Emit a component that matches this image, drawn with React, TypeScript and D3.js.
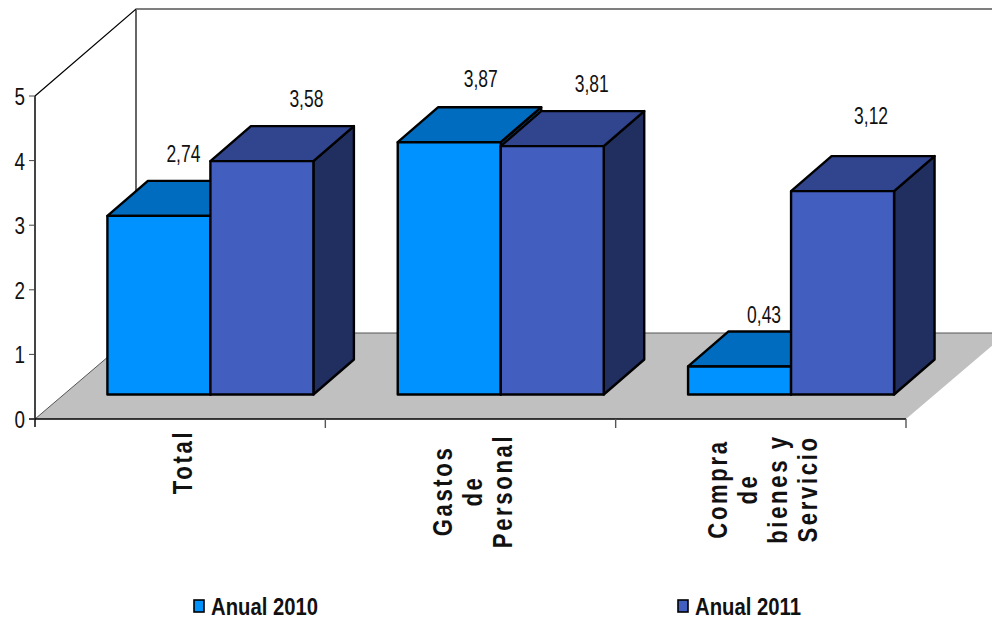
import React from "react";
import * as d3 from "d3";

const categories = [["Total"], ["Gastos", "de", "Personal"], ["Compra", "de", "bienes y", "Servicio"]];
const seriesNames = ["Anual 2010", "Anual 2011"];
const anual2010 = [2.74, 3.87, 0.43];
const anual2011 = [3.58, 3.81, 3.12];
const yTicks = [0, 1, 2, 3, 4, 5];
const valueLabels = [["2,74", "3,87", "0,43"], ["3,58", "3,81", "3,12"]];

// layout constants
const labelDx = [[76, 83, 76], [96, 91, 80]];
const labelBase = [[54, 55, 43.5], [54, 54, 67]];
const W = 992, H = 622;
const x0 = 35, x1 = 906, y0 = 419, y5 = 96;
const wallDx = 101, wallDy = 86;
const barDx = 29;
const barBase = 394.5, barTop5 = 68.5;
const depthX = 40.5, depthY = 35;
const barW = 103, barInset = 43.4;

const x = d3.scaleBand<number>().domain([0, 1, 2]).range([x0, x1]);
const y = d3.scaleLinear().domain([0, 5]).range([y0, y5]);
const yBar = d3.scaleLinear().domain([0, 5]).range([barBase, barTop5]);
const line = d3.line();

const fills = [
  { front: "#0092ff", top: "#006cbf", side: "#00497f" },
  { front: "#425ebf", top: "#31458f", side: "#212f60" },
];

function Bar({ bx, v, c }: { bx: number; v: number; c: typeof fills[0] }) {
  const base = yBar(0);
  const t = yBar(v);
  const p = (pts: [number, number][]) => line(pts)! + "Z";
  const st = { stroke: "#000", strokeWidth: 2.4, strokeLinejoin: "round" as const };
  return (
    <g>
      <path d={p([[bx + barW, t], [bx + barW + depthX, t - depthY], [bx + barW + depthX, base - depthY], [bx + barW, base]])} fill={c.side} {...st} />
      <path d={p([[bx, t], [bx + depthX, t - depthY], [bx + barW + depthX, t - depthY], [bx + barW, t]])} fill={c.top} {...st} />
      <rect x={bx} y={t} width={barW} height={base - t} fill={c.front} {...st} />
    </g>
  );
}

export default function App() {
  const font = "'Liberation Sans', Arial, sans-serif";
  const series = [anual2010, anual2011];
  return (
    <svg width={W} height={H} style={{ position: "absolute", left: 0, top: 0, background: "#fff" }} fontFamily={font}>
      {/* walls */}
      <path d={line([[x0, y(5)], [x0 + wallDx, y(5) - wallDy - 1], [W, y(5) - wallDy - 1]])!} fill="none" stroke="#000" strokeWidth={1.2} />
      <path d={line([[x0 + wallDx, y(5) - wallDy], [x0 + wallDx, y0 - wallDy]])!} fill="none" stroke="#000" strokeWidth={1.2} />
      {/* floor */}
      <path d={line([[x0, y0], [x1, y0], [x1 + wallDx, y0 - wallDy], [x0 + wallDx, y0 - wallDy]])! + "Z"} fill="#c0c0c0" stroke="none" />
      <path d={line([[x0, y0], [x0 + wallDx, y0 - wallDy], [W, y0 - wallDy]])!} fill="none" stroke="#555" strokeWidth={1} />
      {/* axes */}
      <path d={line([[x0, y(5)], [x0, y0 + 8]])!} stroke="#444" strokeWidth={2} fill="none" />
      <path d={line([[x0 - 6, y0], [x1, y0]])!} stroke="#000" strokeWidth={1.4} fill="none" />
      {yTicks.map((t) => (
        <g key={t}>
          <path d={line([[x0 - 6, y(t)], [x0, y(t)]])!} stroke="#444" strokeWidth={1} />
          <text x={x0 - 10} y={y(t) + 9} textAnchor="end" fontSize={24} fill="#111" textLength={10.5} lengthAdjust="spacingAndGlyphs">{t}</text>
        </g>
      ))}
      {[0, 1, 2].map((i) => (
        <path key={i} d={line([[x(i)! + x.bandwidth(), y0], [x(i)! + x.bandwidth(), y0 + 9]])!} stroke="#555" strokeWidth={1.4} />
      ))}
      {/* bars */}
      {[0, 1, 2].map((i) => (
        <g key={i}>
          {series.map((s, si) => (
            <Bar key={si} bx={x(i)! + barDx + barInset + si * barW} v={s[i]} c={fills[si]} />
          ))}
        </g>
      ))}
      {/* value labels */}
      {[0, 1, 2].map((i) =>
        series.map((s, si) => (
          <text
            key={si}
            x={x(i)! + barDx + barInset + si * barW + labelDx[si][i]}
            y={yBar(s[i]) - labelBase[si][i]}
            textAnchor="middle"
            fontSize={23}
            fill="#111"
            textLength={34}
            lengthAdjust="spacingAndGlyphs"
          >
            {valueLabels[si][i]}
          </text>
        ))
      )}
      {/* category labels */}
      {categories.map((lines, i) => {
        const first = [192, 452, 727][i];
        const cy = [462, 491, 489][i];
        return lines.map((l, li) => (
          <text
            key={li}
            transform={`translate(${first + li * 30},${cy}) rotate(-90) scale(0.82,1)`}
            textAnchor="middle"
            fontSize={27}
            fontWeight="bold"
            letterSpacing={3.2}
            fill="#111"
          >
            {l}
          </text>
        ));
      })}
      {/* legend */}
      {seriesNames.map((n, i) => {
        const sx = [194, 678][i];
        return (
          <g key={n}>
            <rect x={sx} y={600} width={10} height={12} fill={fills[i].front} stroke="#000" strokeWidth={1.6} />
            <text x={sx + 17} y={615} fontSize={23} fontWeight="bold" fill="#111" textLength={[107, 106][i]} lengthAdjust="spacingAndGlyphs">{n}</text>
          </g>
        );
      })}
    </svg>
  );
}
